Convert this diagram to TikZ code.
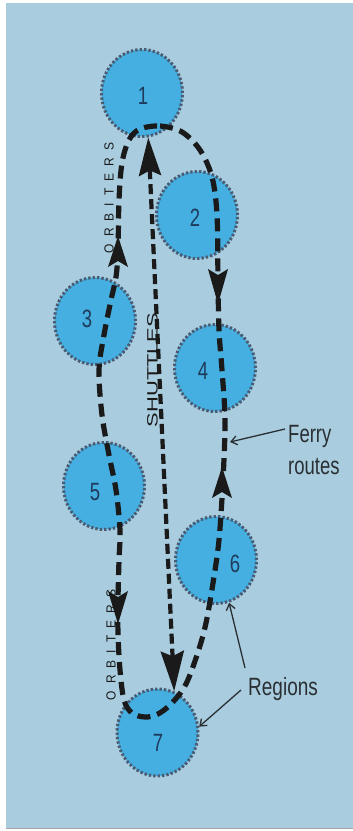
\documentclass[tikz,border=0pt]{standalone}
\usepackage{fontspec}
\setmainfont{Liberation Sans}
\usetikzlibrary{shapes.geometric,arrows.meta,calc}
\definecolor{bgc}{HTML}{A9CDDF}
\definecolor{regc}{HTML}{44AFE0}
\definecolor{regb}{HTML}{4A5C74}
\definecolor{numc}{HTML}{1E3A5C}
\definecolor{inkc}{HTML}{1A1A1A}
\definecolor{notec}{HTML}{2A2F33}
\begin{document}
\begin{tikzpicture}[x=1pt,y=-1pt,
 region/.style={ellipse, minimum width=81pt, minimum height=87pt, inner sep=0pt,
   fill=regc, draw=regb, line width=3pt, dash pattern=on 2.4pt off 2pt},
 numtxt/.style={text=numc, font=\fontsize{25}{25}\selectfont, inner sep=0pt},
 route/.style={draw=inkc, line width=5.2pt, dash pattern=on 13pt off 7pt},
 shuttle/.style={draw=inkc, line width=4.2pt, dash pattern=on 10pt off 5pt},
 tipfill/.style={fill=inkc},
 note/.style={draw=notec, line width=1.3pt, -{Straight Barb[length=6pt,width=9pt]}},
 lbl/.style={text=notec, font=\fontsize{25}{25}\selectfont, inner sep=0pt, anchor=base west},
 vlabel/.style={text=inkc, rotate=90, inner sep=0pt}
]
\useasboundingbox (0,0) rectangle (353,831);
\fill[white] (0,0) rectangle (353,831);
\fill[bgc] (6,3) rectangle (353,828);
\draw[gray!70, line width=1pt] (6,828.5) -- (353,828.5);

% regions
\node[region] (c1) at (142,93) {};
\node[region] (c2) at (197,215) {};
\node[region] (c3) at (95,321) {};
\node[region] (c4) at (215,368) {};
\node[region] (c5) at (104,486) {};
\node[region] (c6) at (216,560) {};
\node[region] (c7) at (157.5,732.5) {};

% ferry loop
\draw[route] plot[smooth cycle, tension=0.55] coordinates {
 (140,129) (160,126) (182,132) (200,150) (212,177) (217,215) (218,280) (219,330)
 (222,370) (225,420) (223,480) (219,540) (213,583) (206,623) (198,652) (186,684)
 (172,703) (158,714) (145,717) (132,713) (124,700) (120,670) (118,633) (118,600)
 (119,560) (120,530) (116,490) (109,455) (102,415) (99,370) (104,335) (111,300)
 (116,277) (118,250) (119,200) (122,163) (129,140)};

% arrowheads on the loop
\fill[tipfill] (118,236) -- (128,267) -- (118,261) -- (108,267) -- cycle;
\fill[tipfill] (118,624) -- (128,591) -- (118,597) -- (108,591) -- cycle;
\fill[tipfill] (218,304) -- (228,269) -- (218,275) -- (208,269) -- cycle;
\fill[tipfill] (222,467) -- (232,498) -- (222,492) -- (212,498) -- cycle;

% shuttles
\draw[shuttle, {Stealth[length=38pt,width=22pt,inset=5pt]}-{Stealth[length=40pt,width=23pt,inset=5pt]}] (c1.-82) -- (c7.68);

% numbers
\node[numtxt] (n1) at (143,96) {\scalebox{0.74}[1]{1}};
\node[numtxt] (n2) at (195,218) {\scalebox{0.74}[1]{2}};
\node[numtxt] (n3) at (87,319) {\scalebox{0.74}[1]{3}};
\node[numtxt] (n4) at (203,371) {\scalebox{0.74}[1]{4}};
\node[numtxt] (n5) at (95,492) {\scalebox{0.74}[1]{5}};
\node[numtxt] (n6) at (235,564) {\scalebox{0.74}[1]{6}};
\node[numtxt] (n7) at (158,743) {\scalebox{0.74}[1]{7}};

% vertical labels
\node[vlabel, font=\fontsize{12}{12}\selectfont] (orb1) at (109,198)
 {\scalebox{1}[1.1]{O\hspace{7pt}R\hspace{7pt}B\hspace{7pt}I\hspace{7pt}T\hspace{7pt}E\hspace{7pt}R\hspace{7pt}S}};
\node[vlabel, font=\fontsize{12}{12}\selectfont] (orb2) at (111,645)
 {\scalebox{1}[1.1]{O\hspace{7pt}R\hspace{7pt}B\hspace{7pt}I\hspace{7pt}T\hspace{7pt}E\hspace{7pt}R\hspace{7pt}S}};
\node[vlabel, font=\fontsize{15}{15}\selectfont] (shut) at (152.5,370)
 {\scalebox{1.46}[1]{SHUTTLES}};

% annotations
\node[lbl] (ferry1) at (288,442) {\scalebox{0.74}[1]{Ferry}};
\node[lbl] (ferry2) at (288,474) {\scalebox{0.74}[1]{routes}};
\node[lbl] (regions) at (248,695) {\scalebox{0.76}[1]{Regions}};
\coordinate (fstart) at (285,429);
\coordinate (fend) at (230,442);
\coordinate (r6) at (245,668);
\coordinate (r7) at (241,690);
\draw[note] (fstart) -- (fend);
\draw[note] (r6) -- (c6.-73);
\draw[note] (r7) -- (c7.8);
\end{tikzpicture}
\end{document}
